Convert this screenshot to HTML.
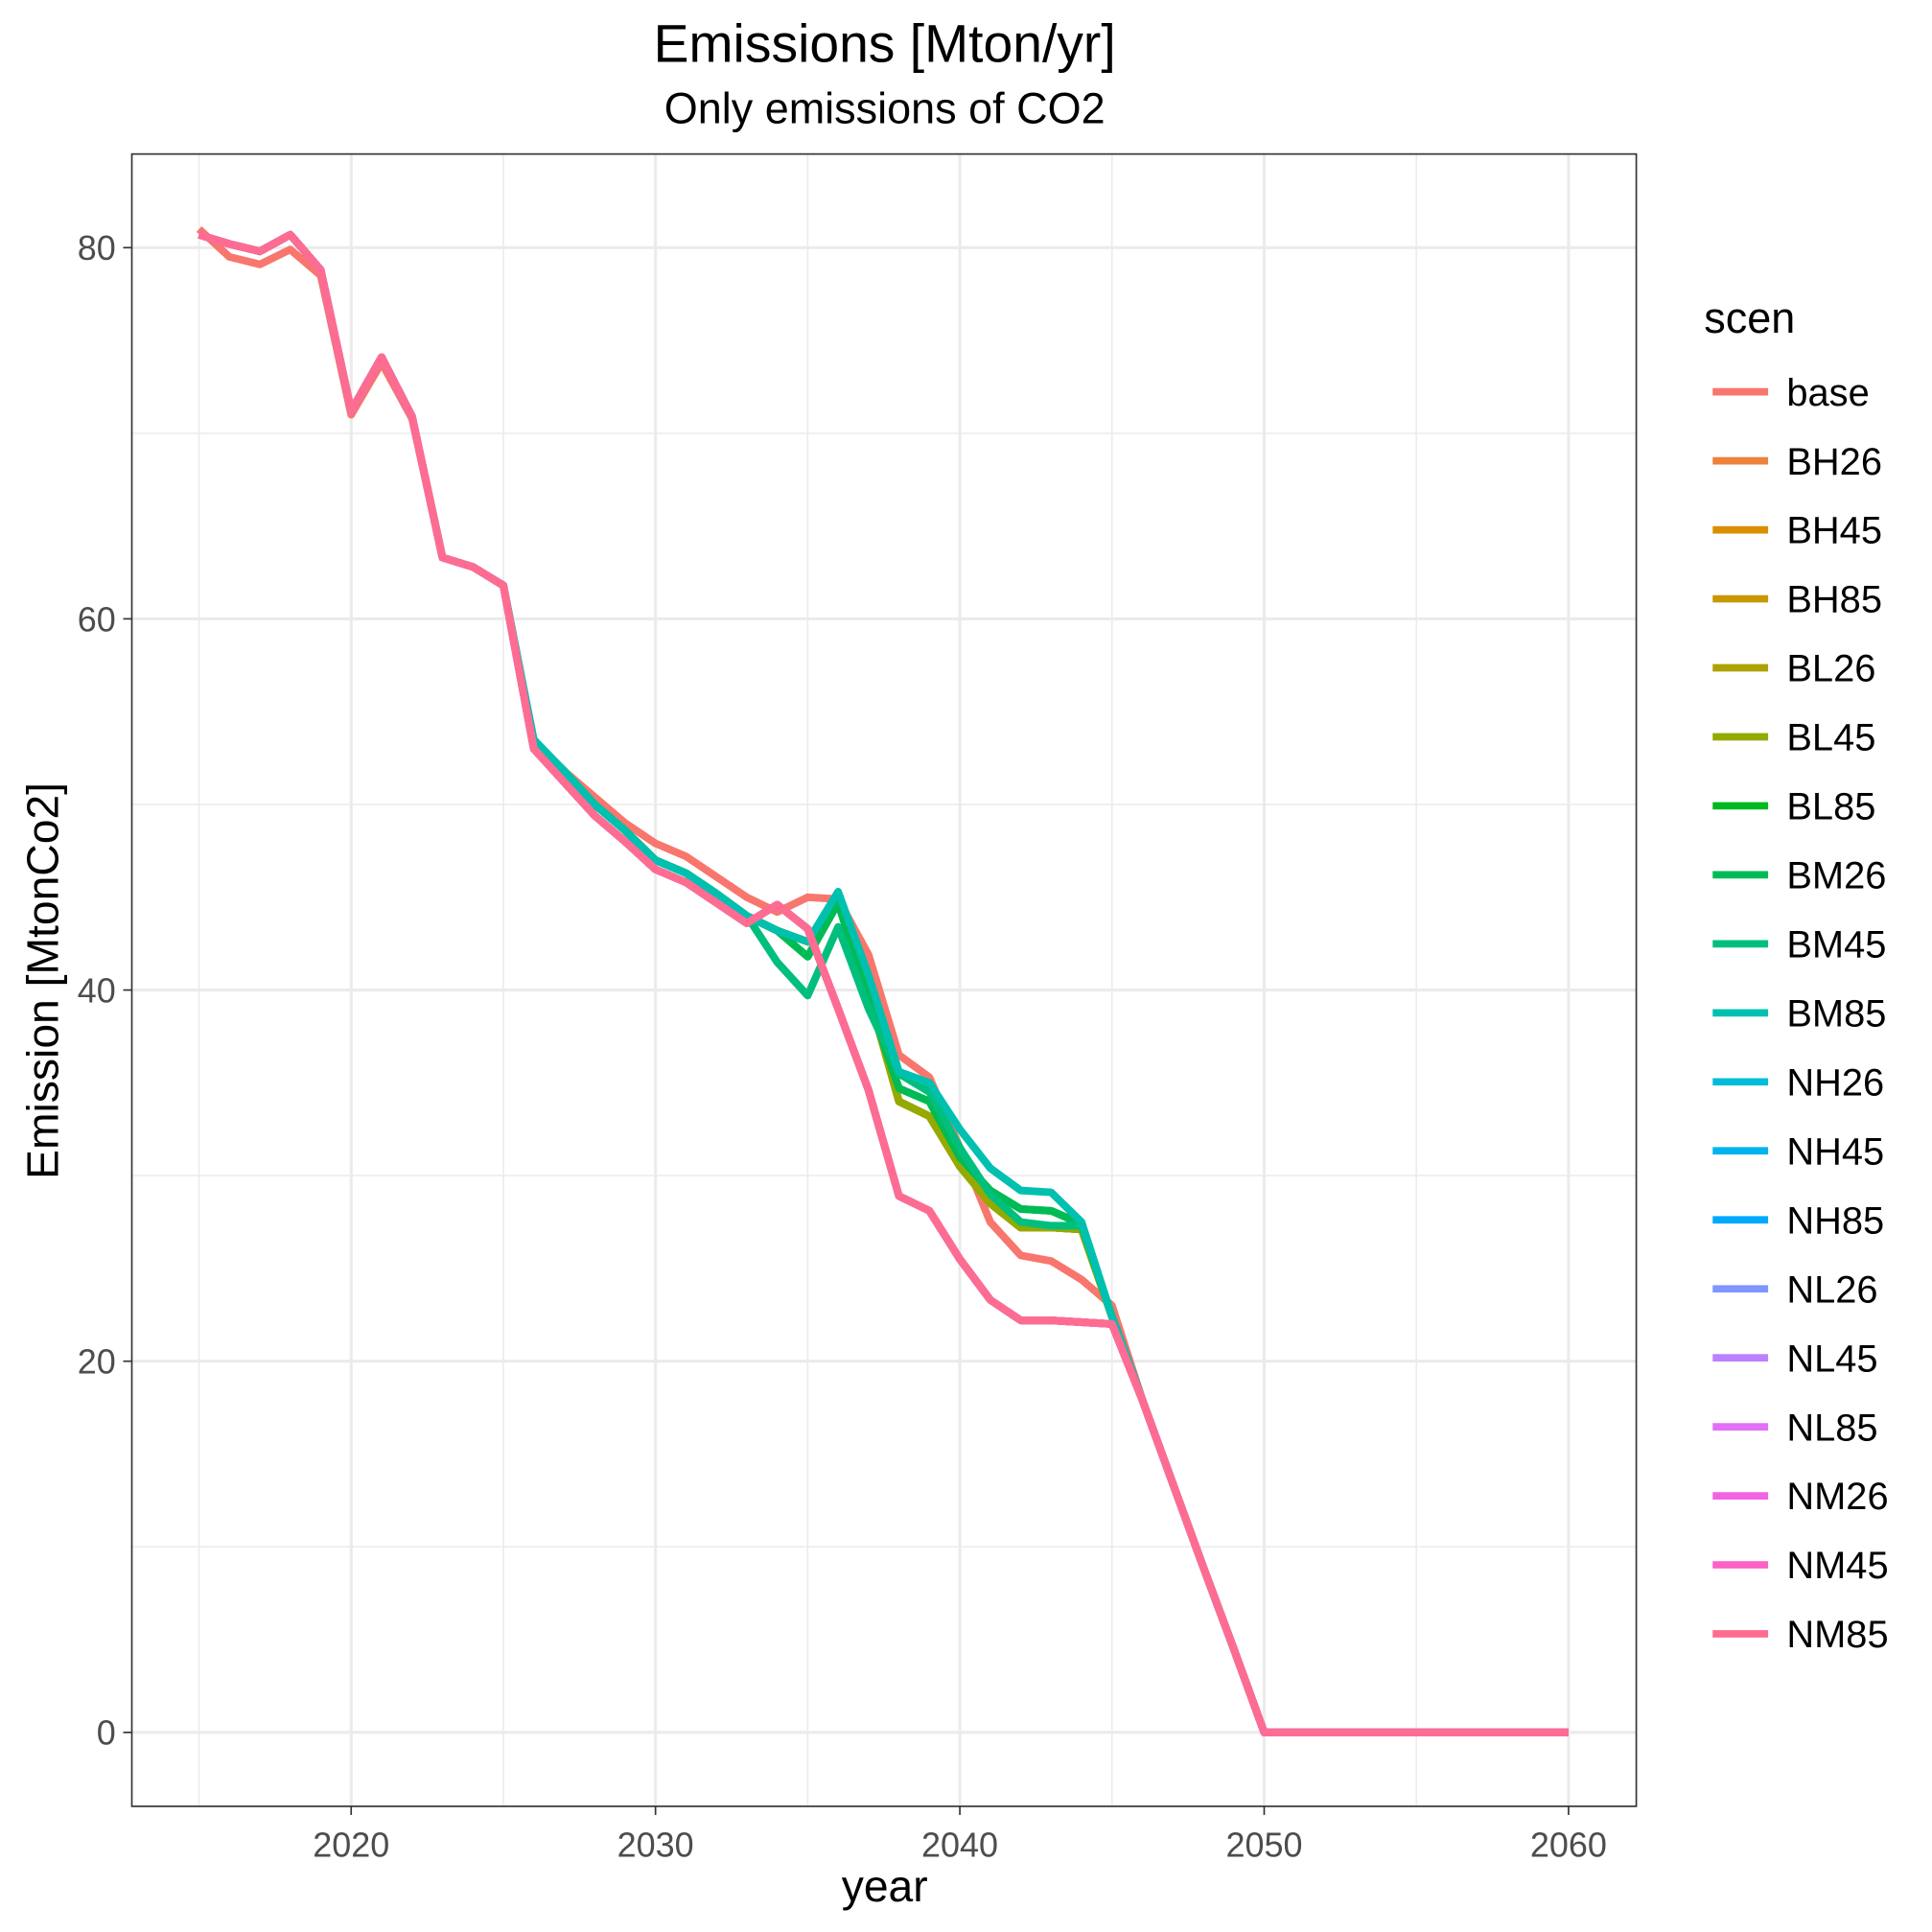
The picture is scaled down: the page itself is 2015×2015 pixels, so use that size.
<!DOCTYPE html>
<html><head><meta charset="utf-8"><style>
html,body{margin:0;padding:0;background:#fff}
svg{display:block}
text{font-family:"Liberation Sans",Arial,sans-serif}
</style></head><body>
<svg id="chart" width="2015" height="2015" viewBox="0 0 1568 1568" xmlns="http://www.w3.org/2000/svg">
<text x="718" y="50" font-size="43" text-anchor="middle" fill="#000">Emissions [Mton/yr]</text>
<text x="718" y="100" font-size="35" text-anchor="middle" fill="#000">Only emissions of CO2</text>
<rect x="107" y="125" width="1221" height="1341" fill="#fff"/>
<g id="grid"></g>
<g id="lines"></g>
<rect x="107" y="125" width="1221" height="1341" fill="none" stroke="#333" stroke-width="1.3"/>
<g id="axes"></g>
<text x="718" y="1543" font-size="36" text-anchor="middle">year</text>
<text transform="translate(47,796) rotate(-90)" font-size="36" text-anchor="middle">Emission [MtonCo2]</text>
<g id="legend">
<text x="1383" y="270" font-size="35">scen</text>
</g>
</svg>
<script>
const years = [2015,2016,2017,2018,2019,2020,2021,2022,2023,2024,2025,2026,2027,2028,2029,2030,2031,2032,2033,2034,2035,2036,2037,2038,2039,2040,2041,2042,2043,2044,2045,2046,2047,2048,2049,2050,2051,2052,2053,2054,2055,2056,2057,2058,2059,2060];
const tail = [17.9,13.4,8.9,4.5,0,0,0,0,0,0,0,0,0,0,0,0];
const headN = [80.7,80.2,79.8,80.7,78.8,71.2,74.1,70.9,63.3,62.8,61.8];
const headBase = [81.0,79.5,79.1,79.9,78.5,71.0,73.8,70.8,63.3,62.8,61.8];
const seriesBase = headBase.concat([53.1,51.8,50.4,49.0,47.9,47.2,46.1,45.0,44.2,45.0,44.9,41.9,36.5,35.3,31.5,27.5,25.7,25.4,24.4,23.0],tail);
const seriesBLow = headN.concat([53.4,51.8,50.0,48.6,47.0,46.3,45.2,44.0,43.2,42.6,45.0,39.8,34.0,33.2,30.5,28.5,27.2,27.2,27.1,22.4],tail);
const seriesBMid = headN.concat([53.4,51.8,50.0,48.6,47.0,46.3,45.2,44.0,43.2,41.8,44.7,39.5,34.7,34.0,31.0,29.2,28.2,28.1,27.4,22.4],tail);
const seriesBDip = headN.concat([53.4,51.8,50.0,48.6,47.0,46.3,45.2,44.0,41.5,39.7,43.4,39.0,35.5,34.5,31.5,29.0,27.5,27.3,27.3,22.4],tail);
const seriesBHigh = headN.concat([53.5,51.8,50.0,48.6,47.0,46.3,45.2,44.0,43.2,42.6,45.3,40.8,35.6,35.0,32.5,30.4,29.2,29.1,27.5,22.4],tail);
const seriesNLow = headN.concat([53.0,51.2,49.4,48.0,46.5,45.8,44.7,43.6,44.6,43.3,39.0,34.6,28.9,28.1,25.5,23.3,22.2,22.2,22.1,22.0],tail);
const scenNames = ["base","BH26","BH45","BH85","BL26","BL45","BL85","BM26","BM45","BM85","NH26","NH45","NH85","NL26","NL45","NL85","NM26","NM45","NM85"];
const scenColors = ["#F8766D","#EC823B","#DB8E00","#C79800","#AFA100","#94AA00","#00B81F","#00BB55","#00BF7D","#00C0AF","#00BCD8","#00B5EE","#00A9FF","#7F96FF","#BB81FF","#E16FF8","#F264E4","#FC62C4","#FF6C91"];
const scenSeries = [seriesBase,seriesBLow,seriesBLow,seriesBLow,seriesBLow,seriesBLow,seriesBMid,seriesBMid,seriesBDip,seriesBHigh,seriesNLow,seriesNLow,seriesNLow,seriesNLow,seriesNLow,seriesNLow,seriesNLow,seriesNLow,seriesNLow];
const xTicks = [2020,2030,2040,2050,2060];
const xMinor = [2015,2025,2035,2045,2055];
const yTicks = [0,20,40,60,80];
const yMinor = [10,30,50,70];

const NS="http://www.w3.org/2000/svg";
const x = v => 285 + (v-2020)*(1273-285)/40;
const y = v => 1406 - v*(1406-201)/80;
function mk(tag, attrs, parent){const e=document.createElementNS(NS,tag);for(const k in attrs)e.setAttribute(k,attrs[k]);parent.appendChild(e);return e;}
const grid=document.getElementById('grid'), axes=document.getElementById('axes'), lines=document.getElementById('lines'), legend=document.getElementById('legend');
xMinor.forEach(v=>{const l=mk('line',{x1:x(v),x2:x(v),y1:125,y2:1466,stroke:'#ebebeb','stroke-width':1.2},grid);

});
yMinor.forEach(v=>{const l=mk('line',{x1:107,x2:1328,y1:y(v),y2:y(v),stroke:'#ebebeb','stroke-width':1.2},grid);

});
xTicks.forEach(v=>{const l=mk('line',{x1:x(v),x2:x(v),y1:125,y2:1466,stroke:'#ebebeb','stroke-width':2.4},grid);


const t=mk('line',{x1:x(v),x2:x(v),y1:1466,y2:1473,stroke:'#333','stroke-width':1.3},axes);


const tx=mk('text',{x:x(v),y:1507,'font-size':28,'text-anchor':'middle',fill:'#4d4d4d'},axes);tx.textContent=v;

});
yTicks.forEach(v=>{const l=mk('line',{x1:107,x2:1328,y1:y(v),y2:y(v),stroke:'#ebebeb','stroke-width':2.4},grid);


const t=mk('line',{x1:100,x2:107,y1:y(v),y2:y(v),stroke:'#333','stroke-width':1.3},axes);


const tx=mk('text',{x:94,y:y(v)+10,'font-size':28,'text-anchor':'end',fill:'#4d4d4d'},axes);tx.textContent=v;

});
scenNames.forEach((n,i)=>{
  const d=scenSeries[i].map((v,j)=>(j?'L':'M')+x(years[j]).toFixed(1)+','+y(v).toFixed(1)).join('');
  const p=mk('path',{d:d,fill:'none',stroke:scenColors[i],'stroke-width':6.2,'stroke-linejoin':'round'},lines);
  
  
  const ly=318+i*(1326-318)/18;
  const g=mk('g',{},legend);
  
  
  mk('line',{x1:1390,x2:1435,y1:ly,y2:ly,stroke:scenColors[i],'stroke-width':6},g);
  const t=mk('text',{x:1450,y:ly+11,'font-size':31,fill:'#000'},g);t.textContent=n;
});
</script>
</body></html>
